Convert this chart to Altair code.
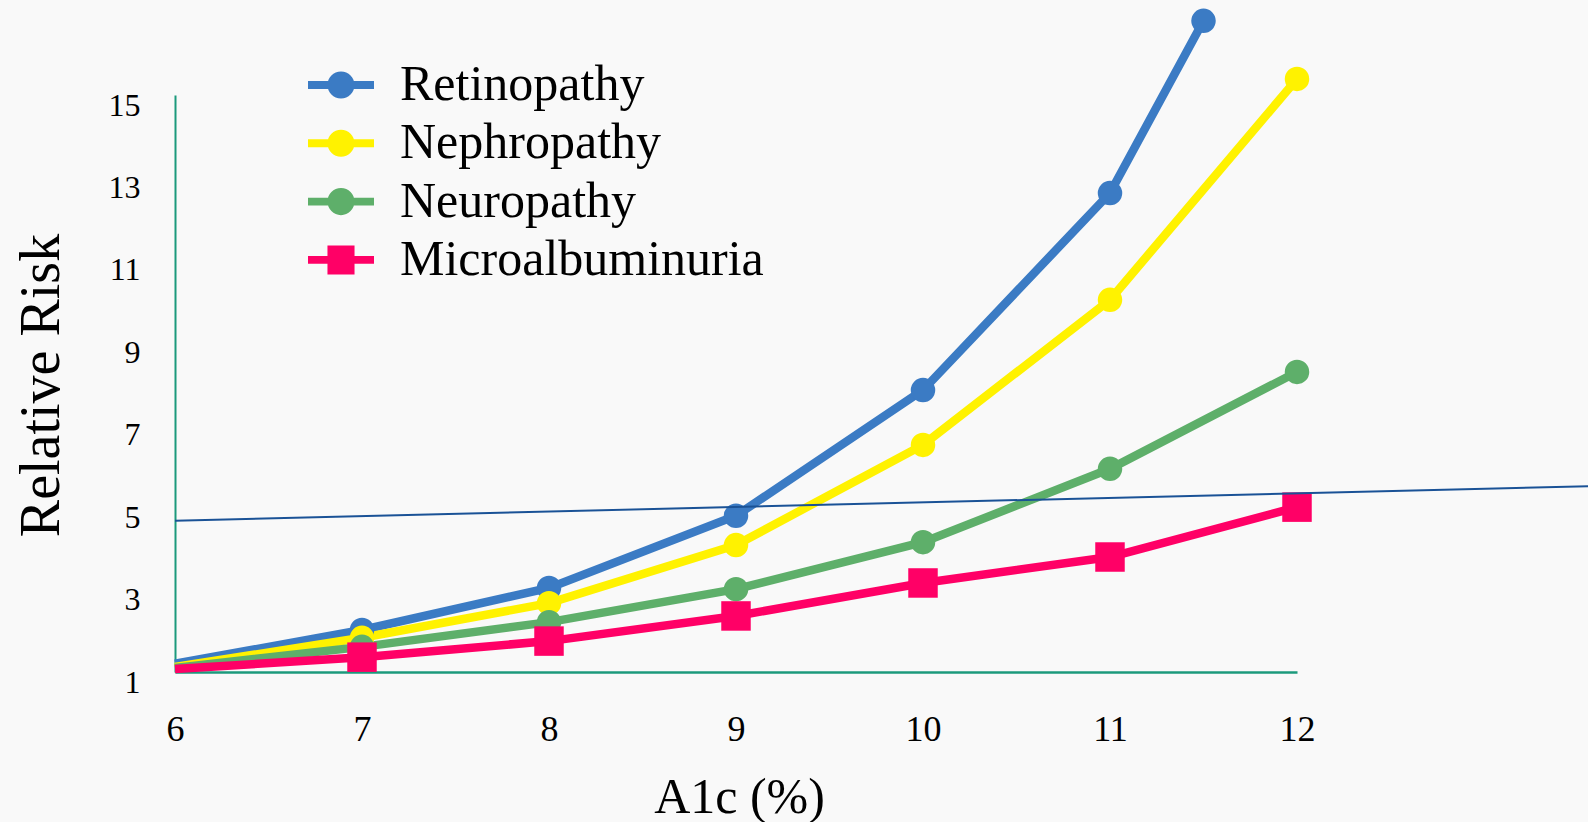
import altair as alt
import pandas as pd

# ---- data ----
series_names = ["Retinopathy", "Nephropathy", "Neuropathy", "Microalbuminuria"]
series_colors = ["#3B7BC4", "#FFF200", "#5EAF6A", "#FF0066"]

a1c = [6, 7, 8, 9, 10, 11, 12]
a1c_retinopathy = [6, 7, 8, 9, 10, 11, 11.5]
retinopathy = [1.2, 2.02, 3.04, 4.79, 7.84, 12.62, 16.8]
nephropathy = [1.12, 1.83, 2.67, 4.08, 6.51, 10.03, 15.39]
neuropathy = [1.1, 1.61, 2.21, 3.01, 4.15, 5.93, 8.28]
microalbuminuria = [1.07, 1.36, 1.75, 2.36, 3.16, 3.79, 5.0]

ref_x = [6, 13.56]
ref_y = [4.67, 5.51]

x_ticks = [6, 7, 8, 9, 10, 11, 12]
y_ticks = [1, 3, 5, 7, 9, 11, 13, 15]

rows = []
for name, xs, ys in [
    ("Retinopathy", a1c_retinopathy, retinopathy),
    ("Nephropathy", a1c, nephropathy),
    ("Neuropathy", a1c, neuropathy),
    ("Microalbuminuria", a1c, microalbuminuria),
]:
    for i, (xv, yv) in enumerate(zip(xs, ys)):
        rows.append({"series": name, "a1c": xv, "risk": yv, "idx": i,
                     "marker": "square" if name == "Microalbuminuria" else "circle"})
df = pd.DataFrame(rows)
ref_df = pd.DataFrame({"a1c": ref_x, "risk": ref_y})

FONT = "Liberation Serif"
AXIS_COLOR = "#1C9A7C"

circle_path = "M-2,-0.24H2V0.24H-2Z M-0.82,0A0.82,0.82 0 1,1 0.82,0A0.82,0.82 0 1,1 -0.82,0Z"
square_path = "M-2,-0.24H2V0.24H-2Z M-0.82,-0.88H0.82V0.88H-0.82Z"
legend_shapes = [circle_path, circle_path, circle_path, square_path]

x_scale = alt.Scale(domain=[6, 12], nice=False, zero=False)
y_scale = alt.Scale(domain=[1, 15], nice=False, zero=False)
color_scale = alt.Scale(domain=series_names, range=series_colors)

x_enc = alt.X("a1c:Q", scale=x_scale, axis=alt.Axis(
    values=x_ticks, format="d", grid=False, ticks=False, tickSize=0,
    domainColor=AXIS_COLOR, domainWidth=2.5,
    labelFont=FONT, labelFontSize=36, labelColor="black",
    labelPadding=68, labelBaseline="alphabetic", labelFlush=False,
    title="A1c (%)", titleFont=FONT, titleFontSize=50, titleFontWeight="normal",
    titleColor="black", titleX=564, titleY=140, titleAlign="center",
    titleBaseline="alphabetic",
))
y_enc = alt.Y("risk:Q", scale=y_scale, axis=alt.Axis(
    values=y_ticks, format="d", grid=False, ticks=False, tickSize=0,
    domainColor=AXIS_COLOR, domainWidth=2,
    labelFont=FONT, labelFontSize=32, labelColor="black",
    labelPadding=35, labelOffset=10, labelBaseline="middle",
    title="Relative Risk", titleFont=FONT, titleFontSize=56, titleFontWeight="normal",
    titleColor="black", titleX=-117, titleY=290, titleAngle=270,
    titleAlign="center", titleBaseline="alphabetic",
))

legend = alt.Legend(
    title=None, orient="none", legendX=141, legendY=-35, padding=0,
    labelFont=FONT, labelFontSize=50, labelColor="black", labelLimit=600,
    labelOffset=34, symbolSize=1089, symbolStrokeWidth=0, symbolOffset=0,
    symbolOpacity=1, rowPadding=8.3,
)

base = alt.Chart(df).encode(x=x_enc, y=y_enc)

lines = base.mark_line(strokeWidth=8.5).encode(
    color=alt.Color("series:N", scale=color_scale, legend=None),
    order="idx:Q",
)

circles = base.transform_filter(
    (alt.datum.marker == "circle") & (alt.datum.idx > 0)
).mark_point(shape="circle", filled=True, size=600, opacity=1).encode(
    color=alt.Color("series:N", scale=color_scale, legend=None),
)

squares = base.transform_filter(
    (alt.datum.marker == "square") & (alt.datum.idx > 0)
).mark_point(shape="square", filled=True, size=870, opacity=1).encode(
    color=alt.Color("series:N", scale=color_scale, legend=None),
)

legend_layer = base.mark_point(filled=True, size=1089, opacity=0.001).encode(
    color=alt.Color("series:N", scale=color_scale, legend=legend),
    shape=alt.Shape("series:N", scale=alt.Scale(domain=series_names, range=legend_shapes),
                    legend=legend),
)

ref_line = alt.Chart(ref_df).mark_line(color="#1A5296", strokeWidth=2).encode(
    x=x_enc, y=y_enc,
)

chart = alt.layer(legend_layer, lines, circles, squares, ref_line).properties(
    width=1122, height=577,
    padding={"left": 175, "top": 95, "right": 291, "bottom": 150},
    autosize=alt.AutoSizeParams(type="none"),
    background="#F9F9F9",
).configure(
    font=FONT,
    view=alt.ViewConfig(stroke="transparent", strokeWidth=0),
)

chart.save("out.html", embed_options={"renderer": "svg", "actions": False})
